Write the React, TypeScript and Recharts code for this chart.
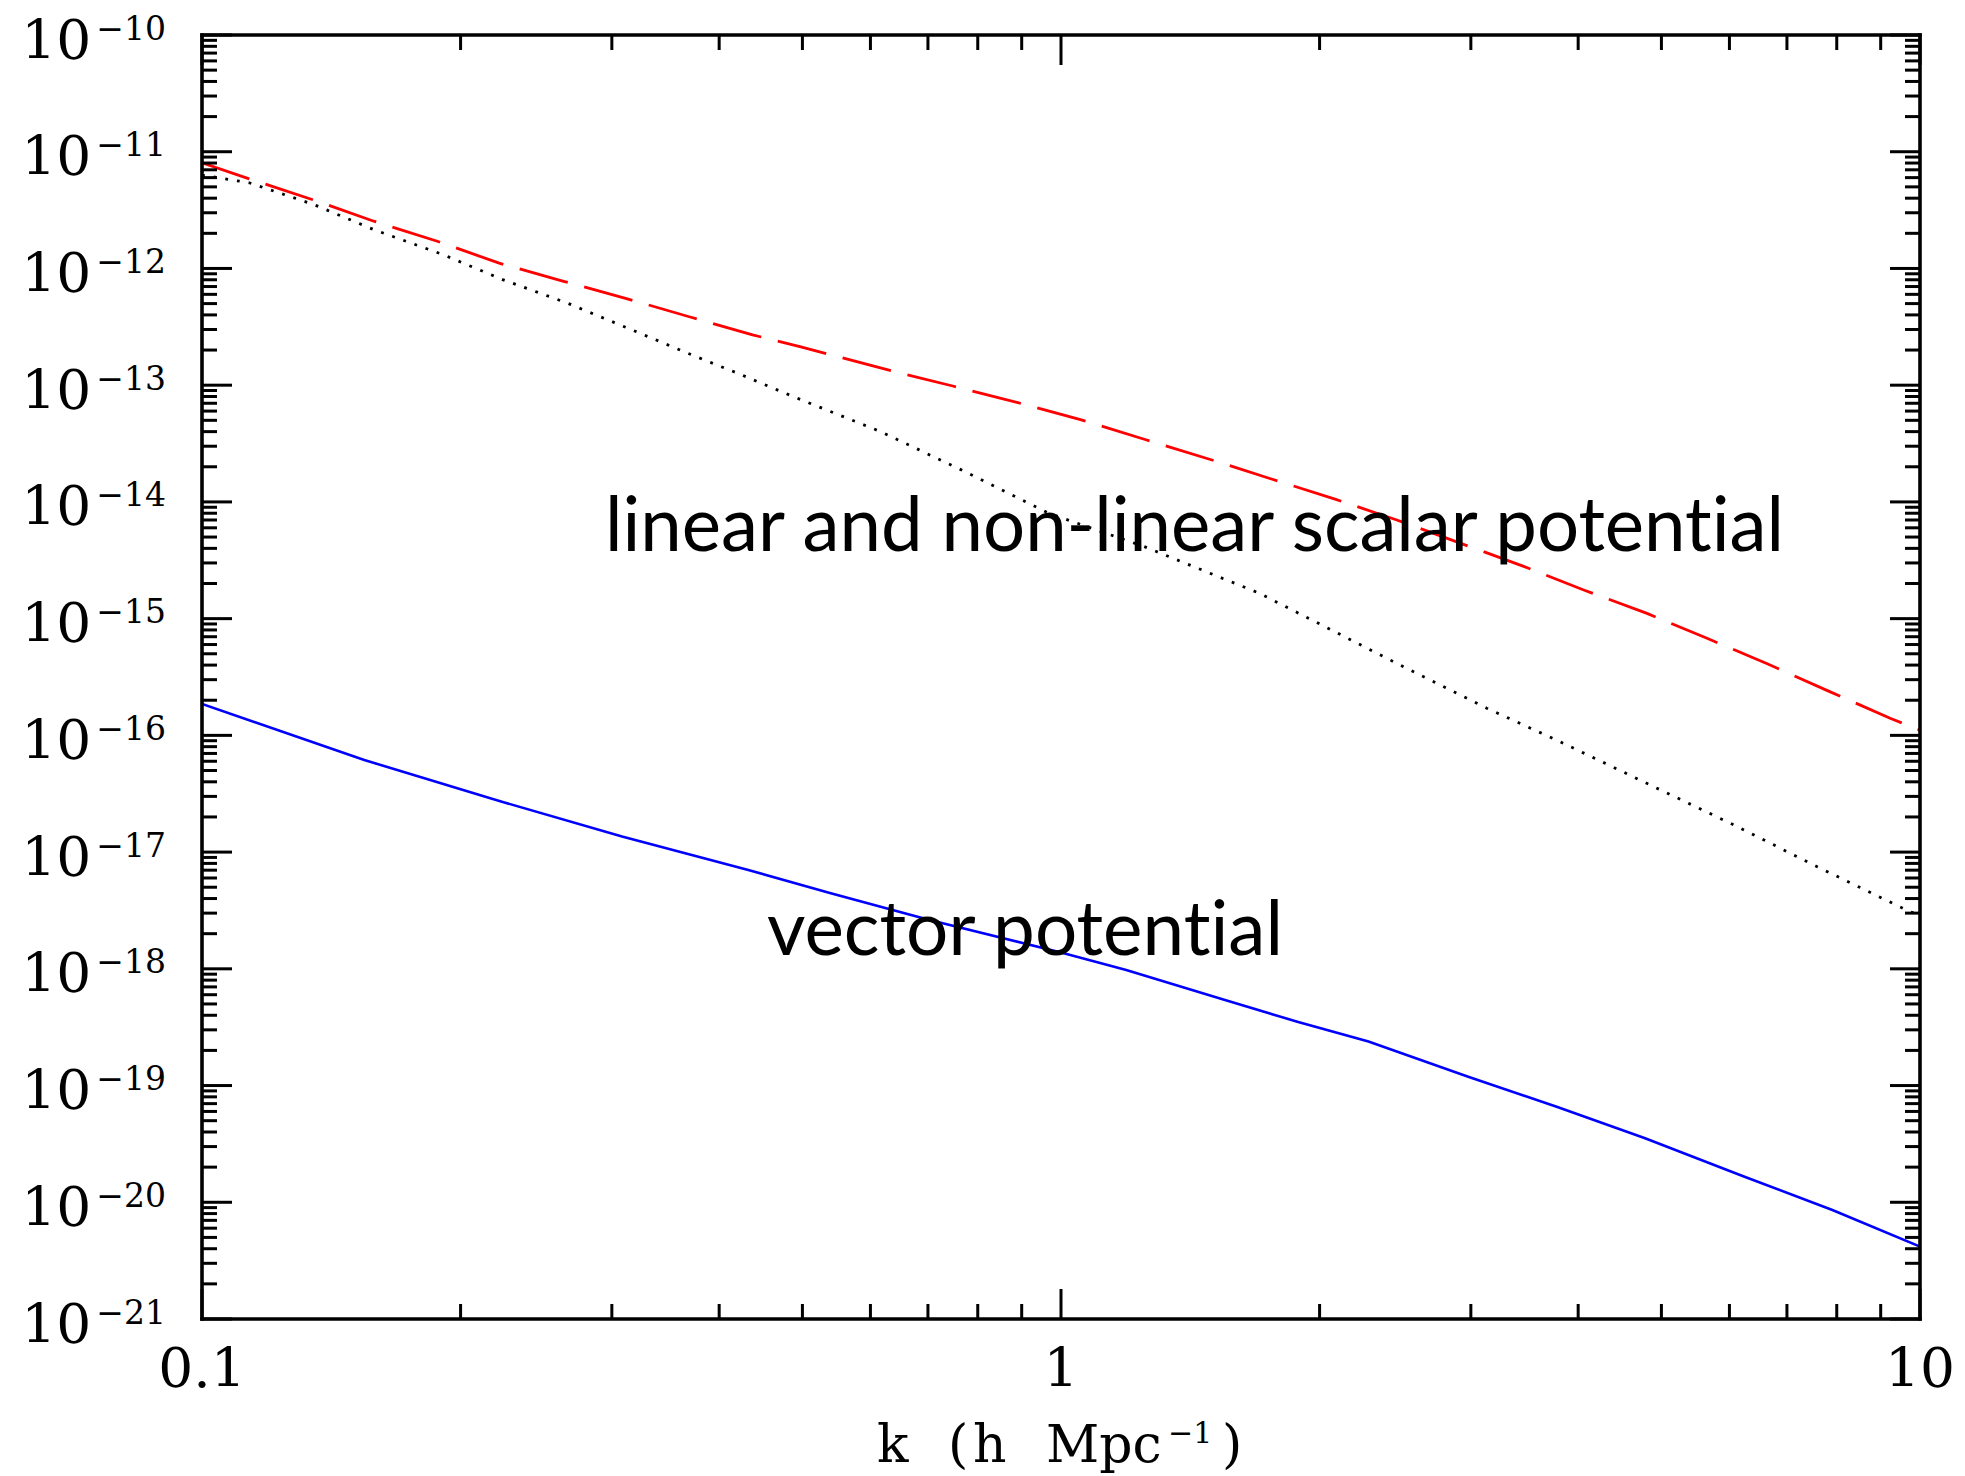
import React from 'react';
import { LineChart, Line, XAxis, YAxis } from 'recharts';

// k in h/Mpc, power values
const scalarNLK = [0.1, 0.1135, 0.1343, 0.1585, 0.1879, 0.2218, 0.2636, 0.3112, 0.37, 0.4375, 0.4966, 0.629, 0.748, 0.891, 1.056, 1.25, 1.489, 1.754, 2.089, 2.46, 3.45, 4.06, 4.81, 5.65, 6.65, 7.85, 9.23, 10];
const scalarNLP = [8.05e-12, 5.86e-12, 3.9e-12, 2.54e-12, 1.71e-12, 1.11e-12, 7.76e-13, 5.55e-13, 3.84e-13, 2.7e-13, 2.14e-13, 1.35e-13, 9.84e-14, 7.08e-14, 5.04e-14, 3.44e-14, 2.32e-14, 1.58e-14, 1.05e-14, 7.0e-15, 2.82e-15, 1.76e-15, 1.11e-15, 6.79e-16, 4.08e-16, 2.37e-16, 1.4e-16, 1.11e-16];

const scalarLinK = [0.1, 0.1135, 0.1349, 0.1585, 0.1905, 0.2239, 0.2661, 0.3162, 0.3715, 0.4198, 0.4875, 0.6166, 0.7727, 0.9683, 1.25, 1.702, 2.46, 3.13, 3.81, 4.9, 6.07, 7.59, 9.73, 10];
const scalarLinP = [6.31e-12, 5.42e-12, 3.53e-12, 2.15e-12, 1.32e-12, 8.02e-13, 5.06e-13, 2.99e-13, 1.82e-13, 1.27e-13, 8.0e-14, 4.0e-14, 1.82e-14, 7.98e-15, 4.14e-15, 1.65e-15, 4.14e-16, 1.71e-16, 8.83e-17, 3.63e-17, 1.71e-17, 7.5e-18, 3.09e-18, 2.9e-18];

const vectorK = [0.1, 0.1545, 0.2234, 0.3083, 0.4325, 0.5395, 0.7031, 1.0, 1.191, 1.552, 1.884, 2.28, 2.979, 3.776, 4.786, 6.237, 7.907, 10];
const vectorP = [1.86e-16, 6.15e-17, 2.7e-17, 1.36e-17, 7.03e-18, 4.44e-18, 2.62e-18, 1.38e-18, 9.77e-19, 5.41e-19, 3.52e-19, 2.38e-19, 1.19e-19, 6.59e-20, 3.53e-20, 1.66e-20, 8.59e-21, 4.17e-21];

const xTicks = [0.1, 0.2, 0.3, 0.4, 0.5, 0.6, 0.7, 0.8, 0.9, 1, 2, 3, 4, 5, 6, 7, 8, 9, 10];
const xTickLabels: Record<string, string> = { '0.1': '0.1', '1': '1', '10': '10' };
const yDecadeExps = [-21, -20, -19, -18, -17, -16, -15, -14, -13, -12, -11, -10];
const minorMultipliers = [1, 2, 3, 4, 5, 6, 7, 8, 9];

const yTicks: number[] = [];
yDecadeExps.forEach((e, i) => {
  if (i === yDecadeExps.length - 1) {
    yTicks.push(Math.pow(10, e));
  } else {
    minorMultipliers.forEach((m) => yTicks.push(m * Math.pow(10, e)));
  }
});

const toRows = (ks: number[], ps: number[]) => ks.map((k, i) => ({ k, p: ps[i] }));
const scalarNLData = toRows(scalarNLK, scalarNLP);
const scalarLinData = toRows(scalarLinK, scalarLinP);
const vectorData = toRows(vectorK, vectorP);

const W = 1965;
const H = 1476;
const MAJOR = 30;
const MINOR = 15;
const TICK_W = 3;
const SERIF = 'DejaVu Serif';

const isMajor = (v: number) => {
  const l = Math.log10(v);
  return Math.abs(l - Math.round(l)) < 1e-6;
};

const BottomTick = (props: any) => {
  const { x, y, payload } = props;
  const v = payload.value;
  const major = isMajor(v);
  const key = String(Math.round(v * 1000) / 1000);
  return (
    <g>
      <line x1={x} x2={x} y1={y} y2={y - (major ? MAJOR : MINOR)} stroke="#000" strokeWidth={TICK_W} />
      {major && xTickLabels[key] ? (
        <text x={x} y={y + 68} textAnchor="middle" fontFamily={SERIF} fontSize={55} fill="#000">
          {xTickLabels[key]}
        </text>
      ) : null}
    </g>
  );
};

const TopTick = (props: any) => {
  const { x, y, payload } = props;
  const major = isMajor(payload.value);
  return <line x1={x} x2={x} y1={y} y2={y + (major ? MAJOR : MINOR)} stroke="#000" strokeWidth={TICK_W} />;
};

const LeftTick = (props: any) => {
  const { x, y, payload } = props;
  const v = payload.value;
  const major = isMajor(v);
  const e = Math.round(Math.log10(v));
  return (
    <g>
      <line x1={x} x2={x + (major ? MAJOR : MINOR)} y1={y} y2={y} stroke="#000" strokeWidth={TICK_W} />
      {major ? (
        <text x={x - 36} y={y + 23.5} textAnchor="end" fontFamily={SERIF} fontSize={55} fill="#000">
          10
          <tspan dx={5} dy={-19} fontSize={33}>
            {'\u2212' + Math.abs(e)}
          </tspan>
        </text>
      ) : null}
    </g>
  );
};

const RightTick = (props: any) => {
  const { x, y, payload } = props;
  const major = isMajor(payload.value);
  return <line x1={x} x2={x - (major ? MAJOR : MINOR)} y1={y} y2={y} stroke="#000" strokeWidth={TICK_W} />;
};

const axisLineStyle = { stroke: '#000', strokeWidth: 3.6, strokeLinecap: 'square' as const };

export default function App() {
  return (
    <div style={{ position: 'absolute', left: 0, top: 0, width: W, height: H, background: '#fff' }}>
      <LineChart width={W} height={H} margin={{ top: 34, right: 44, left: 0, bottom: 0 }}>
        <XAxis
          xAxisId="b"
          dataKey="k"
          type="number"
          scale="log"
          domain={[0.1, 10]}
          allowDataOverflow
          ticks={xTicks}
          interval={0}
          height={157}
          tickSize={0}
          tickMargin={0}
          tickLine={false}
          axisLine={axisLineStyle}
          tick={<BottomTick />}
        />
        <XAxis
          xAxisId="t"
          orientation="top"
          dataKey="k"
          type="number"
          scale="log"
          domain={[0.1, 10]}
          allowDataOverflow
          ticks={xTicks}
          interval={0}
          height={1}
          tickSize={0}
          tickMargin={0}
          tickLine={false}
          axisLine={axisLineStyle}
          tick={<TopTick />}
        />
        <YAxis
          yAxisId="l"
          type="number"
          scale="log"
          domain={[1e-21, 1e-10]}
          allowDataOverflow
          ticks={yTicks}
          interval={0}
          width={202}
          tickSize={0}
          tickMargin={0}
          tickLine={false}
          axisLine={axisLineStyle}
          tick={<LeftTick />}
        />
        <YAxis
          yAxisId="r"
          orientation="right"
          type="number"
          scale="log"
          domain={[1e-21, 1e-10]}
          allowDataOverflow
          ticks={yTicks}
          interval={0}
          width={1}
          tickSize={0}
          tickMargin={0}
          tickLine={false}
          axisLine={axisLineStyle}
          tick={<RightTick />}
        />
        <Line
          xAxisId="b"
          yAxisId="l"
          data={scalarNLData}
          dataKey="p"
          type="linear"
          stroke="#ff0000"
          strokeWidth={2.8}
          strokeDasharray="50 17"
          dot={false}
          activeDot={false}
          isAnimationActive={false}
        />
        <Line
          xAxisId="b"
          yAxisId="l"
          data={scalarLinData}
          dataKey="p"
          type="linear"
          stroke="#000000"
          strokeWidth={2.8}
          strokeDasharray="2.8 9"
          dot={false}
          activeDot={false}
          isAnimationActive={false}
        />
        <Line
          xAxisId="b"
          yAxisId="l"
          data={vectorData}
          dataKey="p"
          type="linear"
          stroke="#0000ff"
          strokeWidth={2.6}
          dot={false}
          activeDot={false}
          isAnimationActive={false}
        />
      </LineChart>
      <svg width={W} height={H} style={{ position: 'absolute', left: 0, top: 0, pointerEvents: 'none' }}>
        <text
          x={605}
          y={551}
          fontFamily="Lato"
          fontSize={75}
          fill="#000"
          textLength={1179}
          lengthAdjust="spacingAndGlyphs"
          style={{ fontVariantLigatures: 'none' }}
        >
          linear and non-linear scalar potential
        </text>
        <text
          x={767}
          y={955}
          fontFamily="Lato"
          fontSize={75}
          fill="#000"
          textLength={516}
          lengthAdjust="spacingAndGlyphs"
          style={{ fontVariantLigatures: 'none' }}
        >
          vector potential
        </text>
        <text y={1462} fontFamily={SERIF} fontSize={52} fill="#000">
          <tspan x={877}>k</tspan>
          <tspan x={948}>(</tspan>
          <tspan x={973}>h</tspan>
          <tspan x={1046}>Mpc</tspan>
          <tspan x={1168} dy={-19} fontSize={30}>{'\u22121'}</tspan>
          <tspan x={1222} dy={19}>)</tspan>
        </text>
      </svg>
    </div>
  );
}
